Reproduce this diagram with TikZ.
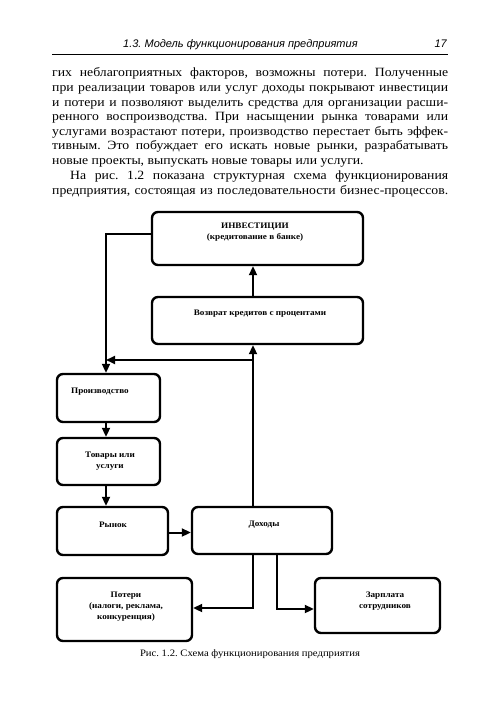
\documentclass[tikz,border=0pt]{standalone}
\usepackage{fontspec}
\setmainfont{Liberation Serif}[FakeStretch=1.09]
\newfontfamily\hdrfont{Liberation Sans}
\usetikzlibrary{arrows.meta}
\frenchspacing
\tikzset{
  box/.style={draw, line width=2.4pt, rounded corners=6pt, inner sep=0pt},
  boxtext/.style={font=\fontsize{8.4}{11}\selectfont\bfseries, align=center, inner sep=0pt},
  arr/.style={line width=2pt, -{Triangle[length=9pt,width=8pt]}},
  bodyline/.style={anchor=base west, inner sep=0pt, font=\fontsize{12.6}{14}\selectfont},
}
\newcommand{\fl}[1]{\makebox[396pt][s]{#1}}
\begin{document}
\begin{tikzpicture}[x=1pt,y=-1pt]
\useasboundingbox (0,0) rectangle (500,708);
% header
\node[anchor=base west, inner sep=0pt, font=\hdrfont\itshape\fontsize{11}{13}\selectfont] (hdr) at (123,48) {1.3. Модель функционирования предприятия};
\node[anchor=base east, inner sep=0pt, font=\hdrfont\itshape\fontsize{11}{13}\selectfont] (pg) at (447,48) {17};
\coordinate (rl) at (52,54);
\coordinate (rr) at (448,54);
\draw[line width=0.6pt] (rl) -- (rr);
% body text
\node[bodyline] (t1) at (52,77) {\fl{гих неблагоприятных факторов, возможны потери. Полученные}};
\node[bodyline] (t2) at (52,91.6) {\fl{при реализации товаров или услуг доходы покрывают инвестиции}};
\node[bodyline] (t3) at (52,106.2) {\fl{и потери и позволяют выделить средства для организации расши-}};
\node[bodyline] (t4) at (52,120.8) {\fl{ренного воспроизводства. При насыщении рынка товарами или}};
\node[bodyline] (t5) at (52,135.4) {\fl{услугами возрастают потери, производство перестает быть эффек-}};
\node[bodyline] (t6) at (52,150) {\fl{тивным. Это побуждает его искать новые рынки, разрабатывать}};
\node[bodyline] (t7) at (52,164.6) {новые проекты, выпускать новые товары или услуги.};
\node[bodyline] (t8) at (70,179.5) {\makebox[378pt][s]{На рис. 1.2 показана структурная схема функционирования}};
\node[bodyline] (t9) at (52,194.1) {\fl{предприятия, состоящая из последовательности бизнес-процессов.}};
% boxes
\node[box, minimum width=211pt, minimum height=53pt] (inv) at (257.5,238.5) {};
\node[box, minimum width=211pt, minimum height=47pt] (ret) at (257.5,320.5) {};
\node[box, minimum width=103pt, minimum height=48pt] (prod) at (108.5,398) {};
\node[box, minimum width=103pt, minimum height=47pt] (goods) at (108.5,461.5) {};
\node[box, minimum width=111pt, minimum height=48pt] (market) at (112.5,531) {};
\node[box, minimum width=140pt, minimum height=47pt] (income) at (262,530.5) {};
\node[box, minimum width=135pt, minimum height=63pt] (loss) at (124.5,609.5) {};
\node[box, minimum width=125pt, minimum height=55pt] (salary) at (377.5,605.5) {};
% box texts
\node[boxtext] (invt) at (255,232.5) {ИНВЕСТИЦИИ\\(кредитование в банке)};
\node[boxtext] (rett) at (260,314) {Возврат кредитов с процентами};
\node[boxtext] (prodt) at (100,392) {Производство};
\node[boxtext] (goodst) at (110,461.5) {Товары или\\услуги};
\node[boxtext] (markett) at (113,525) {Рынок};
\node[boxtext] (incomet) at (264,525) {Доходы};
\node[boxtext] (losst) at (126,607) {Потери\\(налоги, реклама,\\конкуренция)};
\node[boxtext] (salaryt) at (385,601.5) {Зарплата\\сотрудников};
% connector helpers
\coordinate (lx) at (106,0);
\coordinate (vx) at (253,0);
\coordinate (wx) at (277,0);
\coordinate (lt) at (106,234);
\coordinate (br) at (253,360);
\coordinate (lb) at (253,608);
\coordinate (rb) at (277,609);
% connectors
\draw[arr] ([yshift=4.5pt]inv.west) -- (lt) -- (lt |- prod.north);
\draw[arr] (vx |- ret.north) -- (vx |- inv.south);
\draw[arr] (vx |- income.north) -- (vx |- ret.south);
\draw[arr] (br) -- (lx |- br);
\draw[arr] (lx |- prod.south) -- (lx |- goods.north);
\draw[arr] (lx |- goods.south) -- (lx |- market.north);
\draw[arr] ([yshift=-1.5pt]market.east) -- ([yshift=-1.5pt]market.east -| income.west);
\draw[arr] (vx |- income.south) -- (lb) -- (lb -| loss.east);
\draw[arr] (wx |- income.south) -- (rb) -- (rb -| salary.west);
% caption
\node[anchor=center, inner sep=0pt, font=\fontsize{9.8}{11}\selectfont] (cap) at (250,654) {Рис. 1.2. Схема функционирования предприятия};
\end{tikzpicture}
\end{document}
